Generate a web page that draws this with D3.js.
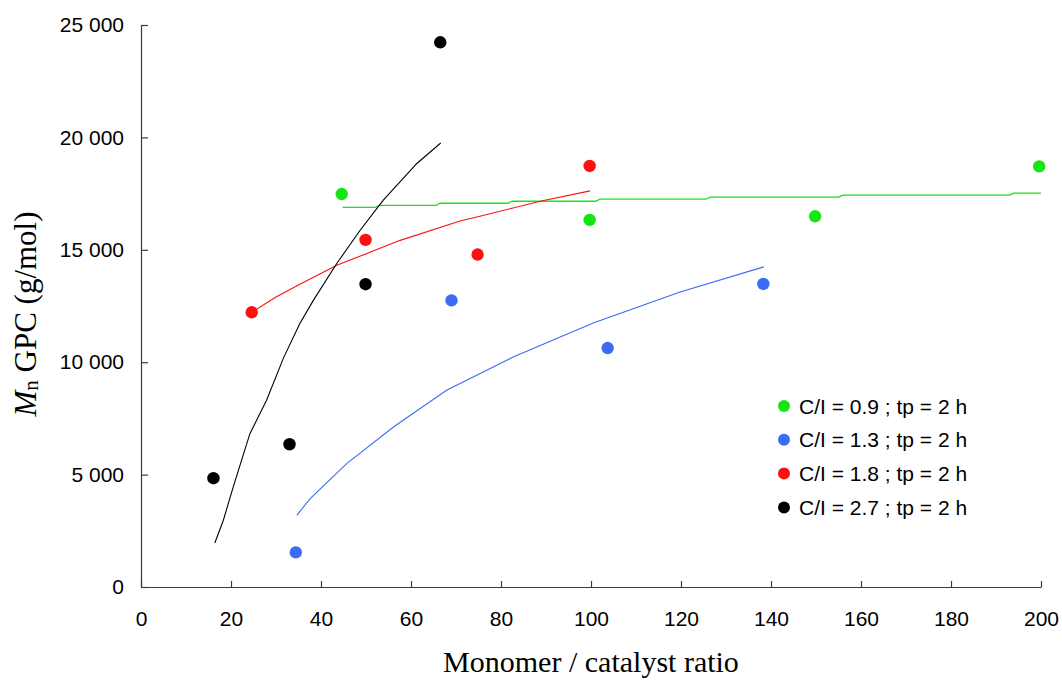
<!DOCTYPE html>
<html>
<head>
<meta charset="utf-8">
<script src="https://cdn.jsdelivr.net/npm/d3@7"></script>
<style>
  body { margin: 0; background: #fff; }
  svg { display: block; }
</style>
</head>
<body>
<div class="chart"></div>
<script>
var svgWidth = 1062;
var svgHeight = 682;

var margin = { top: 25, right: 21, bottom: 95, left: 141 };
var chartWidth = svgWidth - margin.left - margin.right;
var chartHeight = 587 - margin.top;

// measured points (monomer/catalyst ratio, Mn)
var seriesNames = ["C/I = 0.9 ; tp = 2 h", "C/I = 1.3 ; tp = 2 h", "C/I = 1.8 ; tp = 2 h", "C/I = 2.7 ; tp = 2 h"];
var seriesColors = ["#14e614", "#3a6cf6", "#ff1010", "#000000"];

var greenX = [44.6, 99.7, 149.8, 199.6];
var greenY = [17480, 16330, 16490, 18710];
var blueX = [34.4, 69.0, 103.7, 138.3];
var blueY = [1540, 12750, 10630, 13480];
var redX = [24.6, 49.9, 74.8, 99.7];
var redY = [12220, 15440, 14790, 18730];
var blackX = [16.1, 33.0, 49.9, 66.5];
var blackY = [4840, 6350, 13470, 24230];

// fitted curves
var greenFitX = [44.8, 52, 53, 65.5, 66.5, 81.5, 82.5, 101, 102, 125.5, 126.5, 155, 156, 193, 194, 200];
var greenFitY = [16890, 16890, 16980, 16980, 17070, 17070, 17160, 17160, 17250, 17250, 17340, 17340, 17430, 17430, 17520, 17520];
var blueFitX = [34.6, 37.6, 45.7, 56.1, 67.9, 82.7, 100.5, 119.8, 138.4];
var blueFitY = [3190, 3930, 5490, 7120, 8750, 10230, 11740, 13120, 14240];
var redFitX = [24.6, 30, 35.3, 43.5, 53.8, 57.6, 70.9, 75.3, 88.7, 99.8];
var redFitY = [12220, 12900, 13470, 14310, 15120, 15420, 16280, 16490, 17160, 17620];
var blackFitX = [16.4, 18.3, 20.5, 24.2, 27.9, 31.6, 35.3, 38.3, 43.5, 48.7, 53.8, 61.3, 66.6];
var blackFitY = [1960, 2970, 4450, 6820, 8310, 10160, 11720, 12750, 14390, 15870, 17200, 18840, 19750];

var xTicks = [0, 20, 40, 60, 80, 100, 120, 140, 160, 180, 200];
var yTicks = [0, 5000, 10000, 15000, 20000, 25000];

var pointSets = [[greenX, greenY], [blueX, blueY], [redX, redY], [blackX, blackY]];
var fitSets = [[greenFitX, greenFitY], [blueFitX, blueFitY], [redFitX, redFitY], [blackFitX, blackFitY]];

var svg = d3.select(".chart")
  .append("svg")
  .attr("width", svgWidth)
  .attr("height", svgHeight);

var chartGroup = svg.append("g")
  .attr("transform", `translate(${margin.left}, ${margin.top})`);

var xScale = d3.scaleLinear().domain([0, 200]).range([0, 900]);
var yScale = d3.scaleLinear().domain([0, 25000]).range([chartHeight, 0]);

var locale = d3.formatLocale({ decimal: ".", thousands: " ", grouping: [3], currency: ["", ""] });
var fmt = locale.format(",");

var bottomAxis = d3.axisBottom(xScale).tickValues(xTicks)
  .tickSizeInner(-6).tickSizeOuter(0).tickPadding(24);
var leftAxis = d3.axisLeft(yScale).tickValues(yTicks).tickFormat(fmt)
  .tickSizeInner(-7).tickSizeOuter(0).tickPadding(17);

var xAxis = chartGroup.append("g")
  .attr("transform", `translate(0, ${chartHeight})`)
  .call(bottomAxis);
var yAxis = chartGroup.append("g").call(leftAxis);

[xAxis, yAxis].forEach(function(ax) {
  ax.selectAll("path, line").attr("stroke", "#3a3a3a").attr("stroke-width", 1.2);
  ax.selectAll("text")
    .attr("fill", "#000")
    .style("font-family", "'Liberation Sans', Arial, sans-serif")
    .style("font-size", "21px");
});

// fitted lines
var line = d3.line().x(d => xScale(d[0])).y(d => yScale(d[1]));
fitSets.forEach(function(s, i) {
  var pts = s[0].map((x, j) => [x, s[1][j]]);
  chartGroup.append("path")
    .datum(pts)
    .attr("fill", "none")
    .attr("stroke", seriesColors[i])
    .attr("stroke-width", i === 0 ? 1.3 : 1.1)
    .attr("d", line);
});

// data points
pointSets.forEach(function(s, i) {
  var pts = s[0].map((x, j) => [x, s[1][j]]);
  chartGroup.selectAll(".pt" + i)
    .data(pts)
    .enter()
    .append("circle")
    .attr("cx", d => xScale(d[0]))
    .attr("cy", d => yScale(d[1]))
    .attr("r", 6.2)
    .attr("fill", seriesColors[i]);
});

// legend
var legend = svg.append("g").attr("transform", "translate(784, 406)");
seriesNames.forEach(function(name, i) {
  var row = legend.append("g").attr("transform", `translate(0, ${i * 33.8})`);
  row.append("circle").attr("r", 6).attr("fill", seriesColors[i]);
  row.append("text")
    .attr("x", 15)
    .attr("dy", "0.36em")
    .style("font-family", "'Liberation Sans', Arial, sans-serif")
    .style("font-size", "21px")
    .text(name);
});

// axis titles
svg.append("text")
  .attr("x", 591)
  .attr("y", 672)
  .attr("text-anchor", "middle")
  .style("font-family", "'Liberation Serif', 'Times New Roman', serif")
  .style("font-size", "30px")
  .text("Monomer / catalyst ratio");

var yTitle = svg.append("text")
  .attr("transform", "translate(36, 314) rotate(-90)")
  .attr("text-anchor", "middle")
  .style("font-family", "'Liberation Serif', 'Times New Roman', serif")
  .style("font-size", "31px");
yTitle.append("tspan").style("font-style", "italic").text("M");
yTitle.append("tspan").style("font-size", "21px").attr("dy", "2").text("n");
yTitle.append("tspan").attr("dy", "-2").text(" GPC (g/mol)");
</script>
</body>
</html>
